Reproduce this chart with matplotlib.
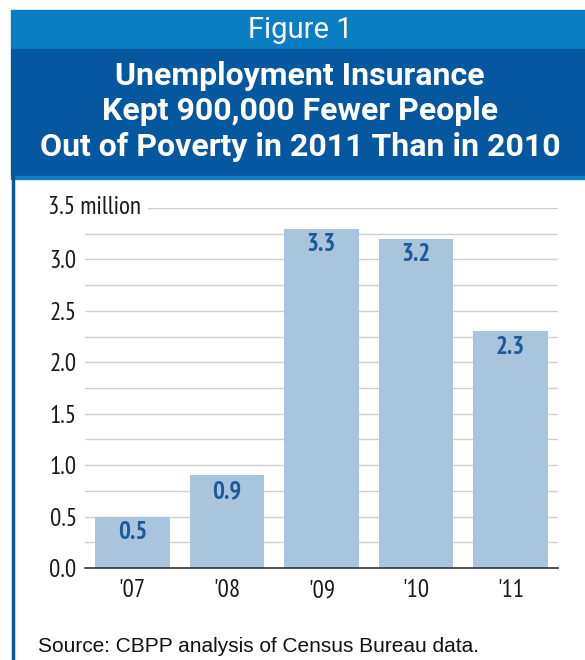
import matplotlib
matplotlib.use("Agg")
import matplotlib.pyplot as plt
from matplotlib.patches import Rectangle
from matplotlib.lines import Line2D

# data
years = ["'07", "'08", "'09", "'10", "'11"]
people_millions = [0.5, 0.9, 3.3, 3.2, 2.3]
tick_values = [0.0, 0.5, 1.0, 1.5, 2.0, 2.5, 3.0]
tick_labels = ["0.0", "0.5", "1.0", "1.5", "2.0", "2.5", "3.0"]

narrow = ["PT Sans Narrow", "DejaVu Sans"]
header_font = ["Roboto", "DejaVu Sans"]
source_font = ["Liberation Sans", "DejaVu Sans"]

bar_color = "#a9c4dd"
label_color = "#1c5a9b"
light_blue = "#0b7dc3"
dark_blue = "#05589f"

fig = plt.figure(figsize=(5.85, 6.6), dpi=100)
W, H = 585, 660


def fx(px):
    return px / W


def fy(py):
    return 1 - py / H


# header bands
fig.patches.append(Rectangle((fx(11), fy(49)), fx(574), fy(10) - fy(49),
                             transform=fig.transFigure, color=light_blue, zorder=0))
fig.patches.append(Rectangle((fx(11), fy(176)), fx(574), fy(49) - fy(176),
                             transform=fig.transFigure, color=dark_blue, zorder=0))
fig.patches.append(Rectangle((fx(11), fy(179)), fx(574), fy(176) - fy(179),
                             transform=fig.transFigure, color=light_blue, zorder=0))
# left border line
fig.lines.append(Line2D([fx(12.5), fx(12.5)], [fy(176), 0], transform=fig.transFigure,
                        color=dark_blue, linewidth=2.5))

fig.text(fx(300), fy(30), "Figure 1", ha="center", va="center", color="white",
         fontsize=21, family=header_font)
title_lines = ["Unemployment Insurance", "Kept 900,000 Fewer People",
               "Out of Poverty in 2011 Than in 2010"]
for i, line in enumerate(title_lines):
    fig.text(fx(300), fy(76 + 35.5 * i), line, ha="center", va="center", color="white",
             fontsize=23, fontweight="bold", family=header_font)

ax = fig.add_axes([fx(85), fy(568), fx(558) - fx(85), fy(208) - fy(568)])
x = range(len(years))
bars = ax.bar(x, people_millions, width=0.79, color=bar_color, zorder=2)

for b, v in zip(bars, people_millions):
    ax.text(b.get_x() + b.get_width() / 2, v - 0.155, f"{v:.1f}", ha="center", va="center",
            color=label_color, fontsize=18, fontweight="bold", family=narrow, zorder=3)

# gridlines every 0.25
for i in range(1, 14):
    ax.axhline(i * 0.25, color="#cfcfcf", linewidth=1, zorder=1)
ax.axhline(3.5, xmin=(148 - 85) / (558 - 85), color="#cfcfcf", linewidth=1, zorder=1)

ax.set_xlim(-0.5, 4.5)
ax.set_ylim(0, 3.5)
ax.set_yticks(tick_values)
ax.set_yticklabels(tick_labels, family=narrow, fontsize=18, color="#1a1a1a")
ax.set_xticks(list(x))
ax.set_xticklabels(years, family=narrow, fontsize=18, color="#1a1a1a")
ax.tick_params(axis="y", length=0, pad=6)
ax.tick_params(axis="x", length=0, pad=8)
for s in ["top", "right", "left"]:
    ax.spines[s].set_visible(False)
ax.spines["bottom"].set_color("#333333")
ax.spines["bottom"].set_linewidth(1.2)
ax.spines["bottom"].set_zorder(4)

fig.text(fx(48), fy(208), "3.5 million", ha="left", va="center", fontsize=18,
         family=narrow, color="#1a1a1a")

fig.text(fx(38), fy(646), "Source: CBPP analysis of Census Bureau data.", ha="left",
         va="center", fontsize=15, family=source_font, color="#111111")

fig.savefig("out.png", dpi=100)
